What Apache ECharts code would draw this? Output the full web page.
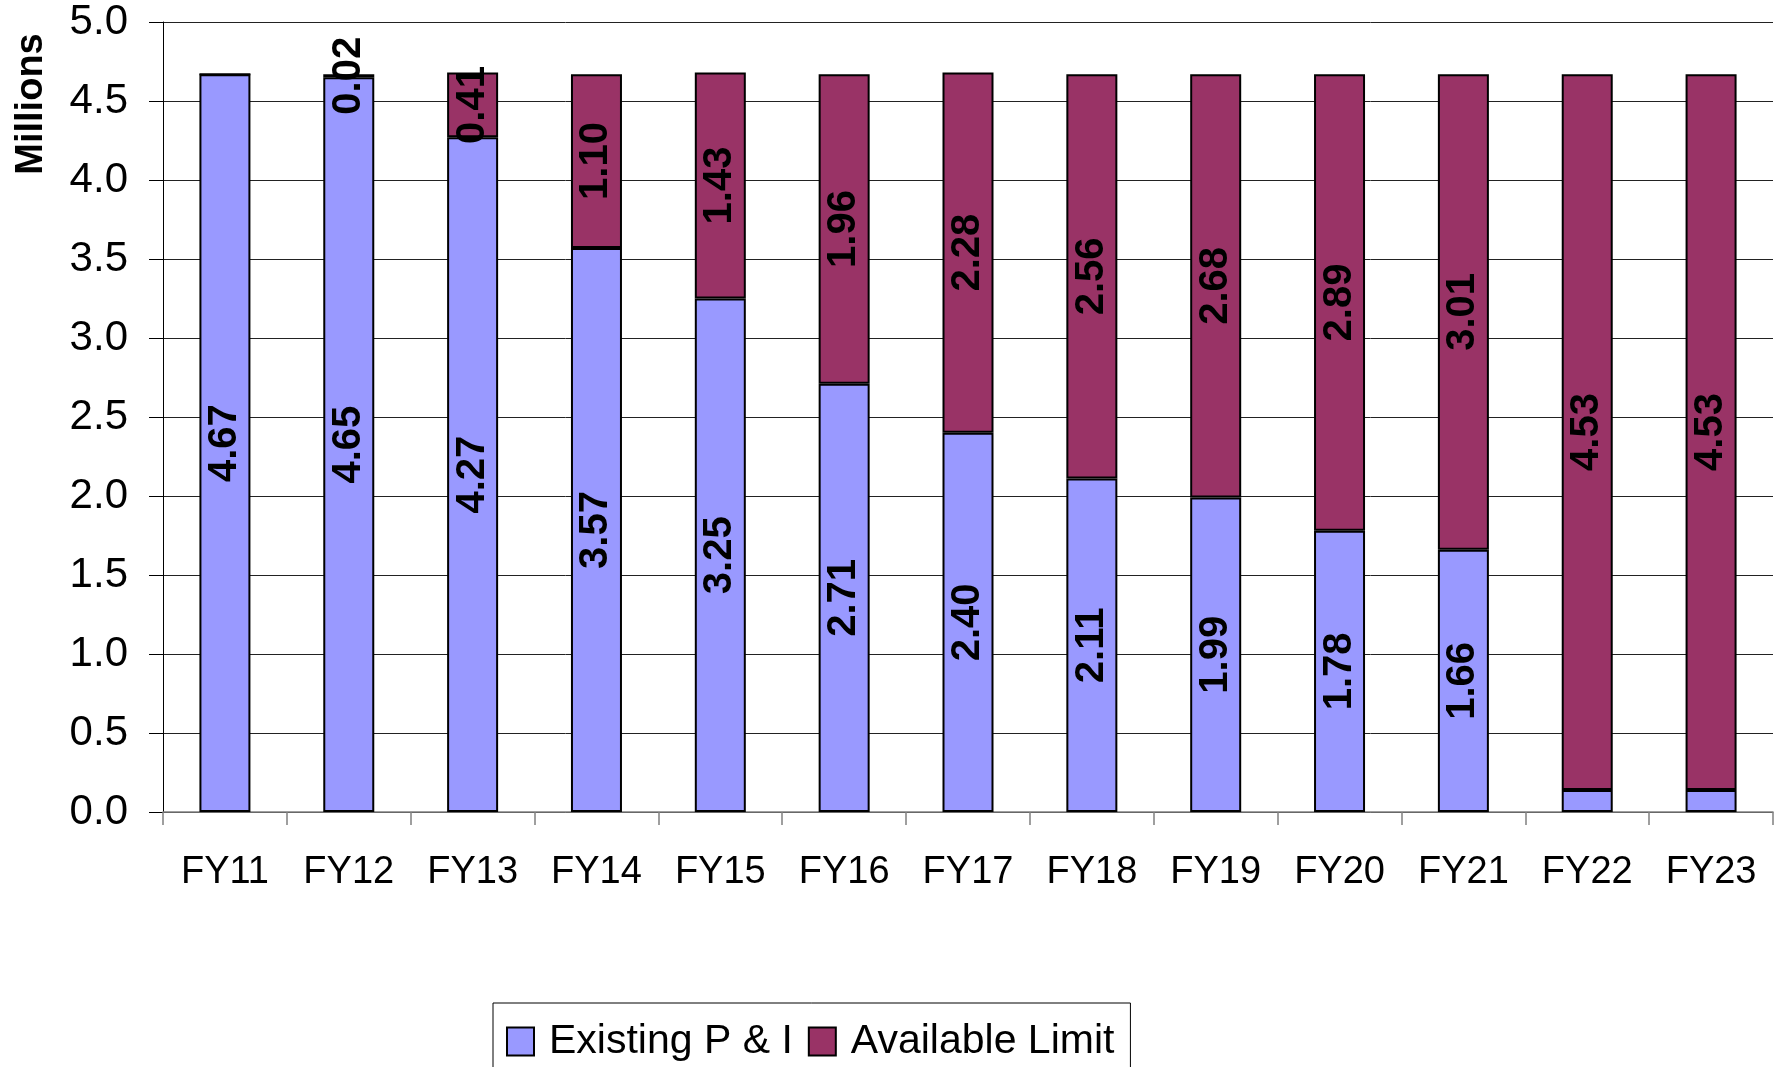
<!DOCTYPE html>
<html>
<head>
<meta charset="utf-8">
<script src="https://cdn.jsdelivr.net/npm/echarts@6/dist/echarts.min.js"></script>
<style>
  html, body { margin: 0; padding: 0; background: #fff; }
  #chart { width: 1790px; height: 1067px; }
</style>
</head>
<body>
<div id="chart"></div>
<script>
const categories = ['FY11','FY12','FY13','FY14','FY15','FY16','FY17','FY18','FY19','FY20','FY21','FY22','FY23'];
const existingPI = [4.67, 4.65, 4.27, 3.57, 3.25, 2.71, 2.40, 2.11, 1.99, 1.78, 1.66, 0.14, 0.14];
const availableLimit = [0, 0.02, 0.41, 1.10, 1.43, 1.96, 2.28, 2.56, 2.68, 2.89, 3.01, 4.53, 4.53];
const yTicks = { min: 0, max: 5, interval: 0.5 };
const seriesNames = ['Existing P & I', 'Available Limit'];

const FONT = '"Liberation Sans", Arial, Helvetica, sans-serif';
const GRID_TOP = 22;

const chart = echarts.init(document.getElementById('chart'), null, { renderer: 'canvas' });

const labelBase = {
  show: true,
  position: 'inside',
  rotate: 90,
  color: '#000',
  fontFamily: FONT,
  fontWeight: 'bold',
  fontSize: 40
};

// keep labels inside the plot area (like the original chart)
function clampLabel(p) {
  const r = p.labelRect;
  if (!r) return;
  const cy = r.y + r.height / 2;
  const half = Math.max(r.width, r.height) / 2;
  const top = cy - half;
  if (top < GRID_TOP + 1) {
    return { dy: GRID_TOP + 1 - top };
  }
}

chart.setOption({
  animation: false,
  backgroundColor: '#fff',
  grid: { left: 163, right: 17, top: GRID_TOP, bottom: 255, containLabel: false },
  legend: {
    left: 493,
    top: 1003,
    orient: 'horizontal',
    itemWidth: 27,
    itemHeight: 28,
    itemGap: 15,
    padding: [18, 16, 40, 13],
    borderColor: '#000',
    borderWidth: 1,
    backgroundColor: '#fff',
    icon: 'rect',
    textStyle: { fontFamily: FONT, fontSize: 41, color: '#000', padding: [0, 0, 0, 10] },
    data: seriesNames
  },
  graphic: [{
    type: 'text',
    x: 32,
    y: 104,
    rotation: Math.PI / 2,
    style: {
      text: 'Millions',
      fontFamily: FONT,
      fontWeight: 'bold',
      fontSize: 38,
      fill: '#000',
      textAlign: 'center',
      textVerticalAlign: 'middle'
    }
  }],
  xAxis: {
    type: 'category',
    data: categories,
    boundaryGap: true,
    axisLine: { show: true, lineStyle: { color: '#808080', width: 1.5 } },
    axisTick: { show: true, length: 13, lineStyle: { color: '#808080', width: 1.5 } },
    axisLabel: { fontFamily: FONT, fontSize: 38, color: '#000', margin: 42 },
    splitLine: { show: false }
  },
  yAxis: {
    type: 'value',
    min: yTicks.min,
    max: yTicks.max,
    interval: yTicks.interval,
    axisLine: { show: true, lineStyle: { color: '#000', width: 1 } },
    axisTick: { show: true, length: 14, lineStyle: { color: '#000', width: 1 } },
    axisLabel: {
      fontFamily: FONT, fontSize: 42, color: '#000', margin: 35,
      formatter: v => v.toFixed(1)
    },
    splitLine: { show: true, lineStyle: { color: '#222', width: 1 } }
  },
  series: [
    {
      name: seriesNames[0],
      type: 'bar',
      stack: 'total',
      barWidth: 51,
      data: existingPI,
      itemStyle: { color: '#9999FF', borderColor: '#000', borderWidth: 2 },
      label: Object.assign({}, labelBase, {
        formatter: p => (p.value >= 0.5 ? p.value.toFixed(2) : '')
      }),
      labelLayout: clampLabel
    },
    {
      name: seriesNames[1],
      type: 'bar',
      stack: 'total',
      barWidth: 51,
      data: availableLimit,
      itemStyle: { color: '#993366', borderColor: '#000', borderWidth: 2 },
      label: Object.assign({}, labelBase, {
        formatter: p => (p.value > 0 ? p.value.toFixed(2) : '')
      }),
      labelLayout: clampLabel
    }
  ]
});
</script>
</body>
</html>
